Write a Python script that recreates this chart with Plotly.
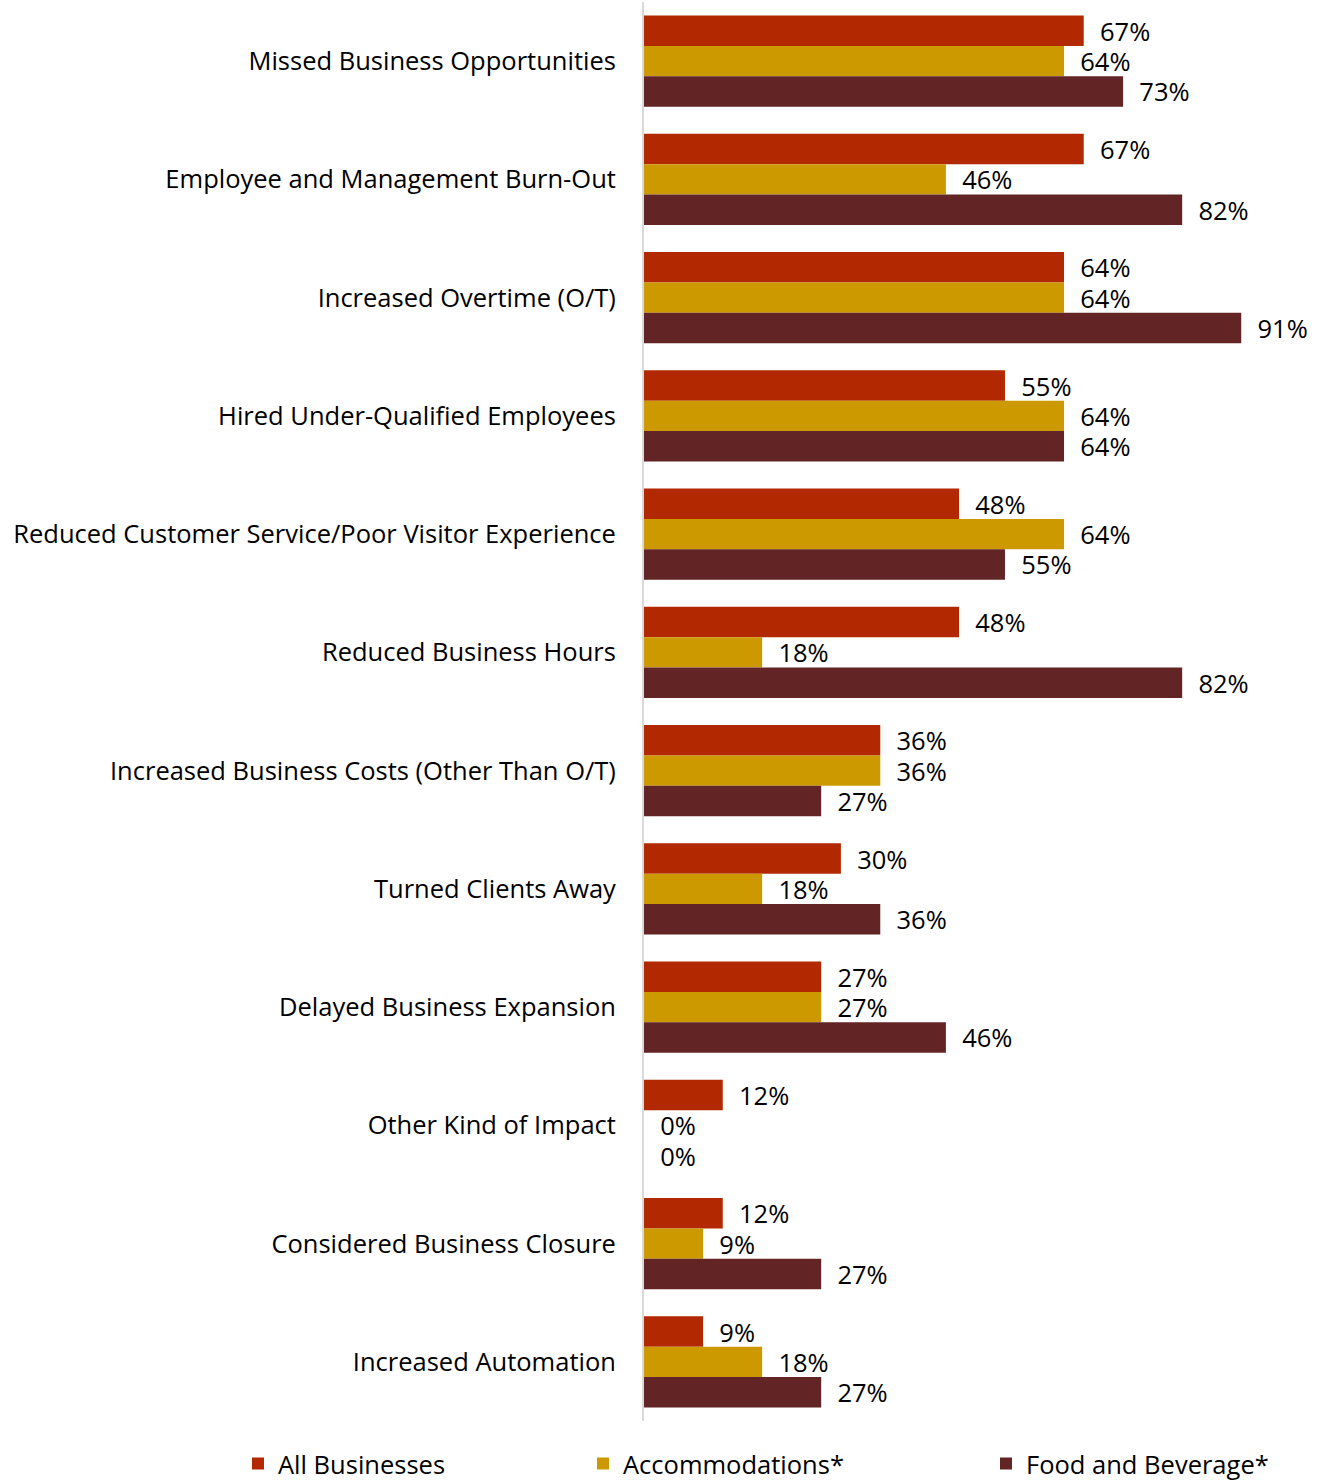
import plotly.graph_objects as go

categories = [
    "Missed Business Opportunities",
    "Employee and Management Burn-Out",
    "Increased Overtime (O/T)",
    "Hired Under-Qualified Employees",
    "Reduced Customer Service/Poor Visitor Experience",
    "Reduced Business Hours",
    "Increased Business Costs (Other Than O/T)",
    "Turned Clients Away",
    "Delayed Business Expansion",
    "Other Kind of Impact",
    "Considered Business Closure",
    "Increased Automation",
]
all_businesses = [67, 67, 64, 55, 48, 48, 36, 30, 27, 12, 12, 9]
accommodations = [64, 46, 64, 64, 64, 18, 36, 18, 27, 0, 9, 18]
food_beverage = [73, 82, 91, 64, 55, 82, 27, 36, 46, 0, 27, 27]

series = [
    ("All Businesses", all_businesses, "#B22800", "legend"),
    ("Accommodations*", accommodations, "#CC9900", "legend2"),
    ("Food and Beverage*", food_beverage, "#632426", "legend3"),
]

FONT = "'Open Sans', Lato, sans-serif"
FS = 25.5
W, H = 1320, 1481

fig = go.Figure()
for name, vals, color, leg in series:
    fig.add_trace(go.Bar(
        y=categories, x=vals, name=name, orientation="h",
        marker=dict(color=color, line=dict(width=0)),
        text=[f"\u00a0\u00a0{v}%" for v in vals], textposition="outside",
        textfont=dict(size=FS, color="#000000", family=FONT),
        cliponaxis=False, legend=leg,
    ))

legend_base = dict(
    orientation="h", yref="container", y=(H - 1464) / H, yanchor="middle",
    xref="container", xanchor="left",
    font=dict(size=FS, color="#000000", family=FONT),
    bgcolor="rgba(0,0,0,0)", itemwidth=30, tracegroupgap=0,
)

fig.update_layout(
    width=W, height=H,
    margin=dict(l=644, r=0, t=2, b=60),
    paper_bgcolor="white", plot_bgcolor="white",
    barmode="group", bargap=0.23, bargroupgap=0,
    font=dict(family=FONT, size=FS, color="#000000"),
    uniformtext=dict(minsize=FS, mode="show"),
    legend=dict(legend_base, x=238 / W),
    legend2=dict(legend_base, x=583 / W),
    legend3=dict(legend_base, x=986 / W),
    showlegend=True,
)
fig.update_xaxes(range=[0, 103], visible=False, showgrid=False, zeroline=False)
fig.update_yaxes(
    autorange="reversed", showgrid=False, zeroline=False,
    showline=True, linecolor="#D9D9D9", linewidth=2,
    ticks="", ticklabelstandoff=21,
    tickfont=dict(size=FS, color="#000000", family=FONT),
)

fig.write_html("out.html")
